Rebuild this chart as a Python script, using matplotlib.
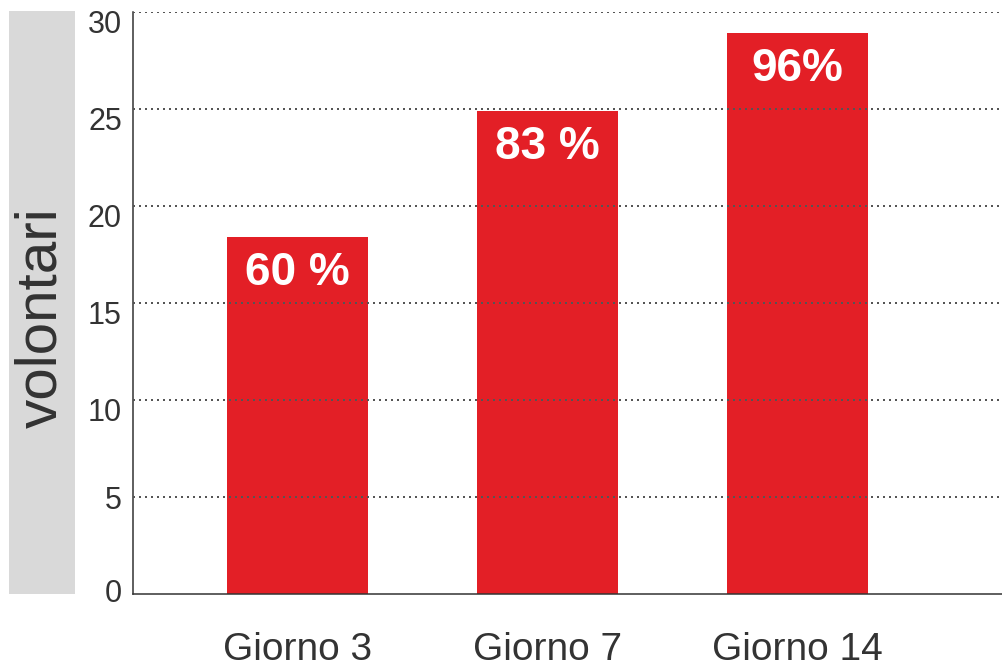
import matplotlib.pyplot as plt
from matplotlib.patches import Rectangle
from matplotlib.transforms import ScaledTranslation

plt.rcParams['font.family'] = ['Liberation Sans', 'DejaVu Sans']

categories = ['Giorno 3', 'Giorno 7', 'Giorno 14']
volunteers = [18.4, 24.9, 28.9]
percent_labels = ['60 %', '83 %', '96%']
y_ticks = [0, 5, 10, 15, 20, 25, 30]

fig = plt.figure(figsize=(10.03, 6.66), dpi=100)
ax = fig.add_axes([0.1326, 0.1081, 0.8674, 0.8739])

# grey band behind the y label
fig.patches.append(Rectangle((9 / 1003, 1 - 594 / 666), 66 / 1003, 583 / 666,
                             transform=fig.transFigure, facecolor='#d9d9d9',
                             edgecolor='none', zorder=0))
fig.text(41 / 1003, 1 - 318 / 666, 'volontari', rotation=90, fontsize=42,
         color='#333333', ha='center', va='center')

x = range(len(categories))
bars = ax.bar(x, volunteers, width=0.564, color='#e31f26', zorder=2)

for bar, lab in zip(bars, percent_labels):
    ax.annotate(lab, (bar.get_x() + bar.get_width() / 2, bar.get_height()),
                xytext=(0, -26), textcoords='offset points',
                ha='center', va='center', fontsize=33, fontweight='bold',
                color='white', zorder=4)

ax.set_xlim(-0.658, 2.822)
ax.set_ylim(0, 30)
ax.set_yticks(y_ticks)
ax.set_xticks(list(x))
ax.set_xticklabels(categories)

for y in y_ticks[1:]:
    ax.axhline(y, color='#555555', linewidth=1.44, linestyle=(0, (1, 2)), zorder=3)

for side in ['top', 'right']:
    ax.spines[side].set_visible(False)
for side in ['left', 'bottom']:
    ax.spines[side].set_color('#333333')
    ax.spines[side].set_linewidth(1.1)

ax.tick_params(axis='y', length=0, pad=8, labelsize=22, labelcolor='#333333')
ax.tick_params(axis='x', length=0, pad=27, labelsize=28, labelcolor='#333333')

# upper tick labels sit a little below their gridline in the original
for val, lab in zip(y_ticks, ax.get_yticklabels()):
    if val >= 10:
        lab.set_transform(lab.get_transform() + ScaledTranslation(0, -10 / 100, fig.dpi_scale_trans))
    elif val == 0:
        lab.set_transform(lab.get_transform() + ScaledTranslation(0, 4 / 100, fig.dpi_scale_trans))

fig.savefig('out.png', dpi=100)
